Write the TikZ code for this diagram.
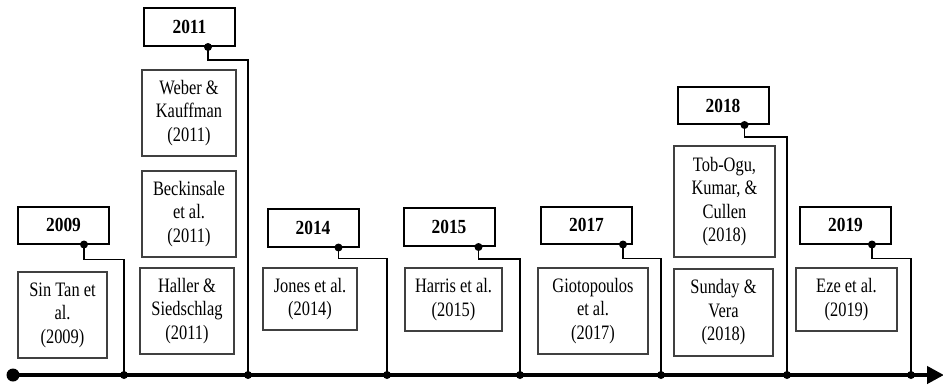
\documentclass[tikz,border=0pt]{standalone}
\usepackage{fontspec}
\setmainfont{Liberation Serif}[FakeStretch=0.8]
\newfontfamily\yearfont{Liberation Serif}[FakeStretch=0.87]
\usetikzlibrary{arrows.meta,calc}
\begin{document}
\begin{tikzpicture}[x=1pt,y=-1pt,
  yearbox/.style={draw=black,line width=2pt,minimum width=91pt,minimum height=37pt,inner sep=0pt,font=\yearfont\fontsize{20}{22}\selectfont\bfseries},
  refbox/.style={draw=black!75,line width=1.3pt,inner sep=0pt,align=center,font=\fontsize{20.5}{23.5}\selectfont,text=black},
  conn/.style={line width=1.7pt},
  dotc/.style={fill=black,circle,inner sep=0pt,minimum size=8pt},
  axisline/.style={line width=4.2pt,-{Triangle[length=17pt,width=17pt]}}
]
\useasboundingbox (0,0) rectangle (943,384);
% axis
\coordinate (start) at (13,375);
\coordinate (finish) at (944,375);
\draw[axisline] (start) -- (finish);
\fill (start) circle (6.5pt);
% year boxes
\node[yearbox] (y09) at (63.5,225) {2009};
\node[yearbox,minimum height=38pt] (y11) at (189.5,27) {2011};
\node[yearbox,minimum height=38pt] (y14) at (313,227.5) {2014};
\node[yearbox,minimum height=38pt] (y15) at (449,227) {2015};
\node[yearbox] (y17) at (586.5,225) {2017};
\node[yearbox] (y18) at (723,105.5) {2018};
\node[yearbox] (y19) at (845.5,225) {2019};
% reference boxes
\node[refbox,minimum width=89pt,minimum height=86pt] (sintan) at (62.5,315) {Sin Tan et\\al.\\(2009)};
\node[refbox,minimum width=94pt,minimum height=86pt] (weber) at (189,113) {Weber \&\\Kauffman\\(2011)};
\node[refbox,minimum width=94pt,minimum height=86pt] (beck) at (189,214) {Beckinsale\\et al.\\(2011)};
\node[refbox,minimum width=94pt,minimum height=86pt] (haller) at (187,311) {Haller \&\\Siedschlag\\(2011)};
\node[refbox,minimum width=94pt,minimum height=62pt] (jones) at (310,299) {Jones et al.\\(2014)};
\node[refbox,minimum width=97pt,minimum height=63pt] (harris) at (453.5,299.5) {Harris et al.\\(2015)};
\node[refbox,minimum width=110pt,minimum height=86pt] (gioto) at (593,311) {Giotopoulos\\et al.\\(2017)};
\node[refbox,minimum width=101pt,minimum height=111pt] (tob) at (724.5,201.5) {Tob-Ogu,\\Kumar, \&\\Cullen\\(2018)};
\node[refbox,minimum width=99pt,minimum height=87pt] (sunday) at (723.5,312.5) {Sunday \&\\Vera\\(2018)};
\node[refbox,minimum width=101pt,minimum height=63pt] (eze) at (846.5,299.5) {Eze et al.\\(2019)};
% axis points
\coordinate (a09) at (124,375);
\coordinate (a11) at (248,375);
\coordinate (a14) at (387,375);
\coordinate (a15) at (520,375);
\coordinate (a17) at (661,375);
\coordinate (a18) at (787,375);
\coordinate (a19) at (911,375);
% connector starts on year boxes
\coordinate (s09) at ($(y09.south east)+(-26,0)$);
\coordinate (s11) at ($(y11.south east)+(-28,0)$);
\coordinate (s14) at ($(y14.south east)+(-21,0)$);
\coordinate (s15) at ($(y15.south east)+(-17,0)$);
\coordinate (s17) at ($(y17.south east)+(-10,0)$);
\coordinate (s18) at ($(y18.south east)+(-25,0)$);
\coordinate (s19) at ($(y19.south east)+(-20,0)$);
% connectors
\draw[conn] (s09) -- ++(0,15) -| (a09);
\draw[conn] (s11) -- ++(0,13) -| (a11);
\draw[conn] (s14) -- ++(0,11) -| (a14);
\draw[conn] (s15) -- ++(0,12) -| (a15);
\draw[conn] (s17) -- ++(0,14) -| (a17);
\draw[conn] (s18) -- ++(0,12) -| (a18);
\draw[conn] (s19) -- ++(0,14) -| (a19);
% dots
\foreach \p in {s09,s11,s14,s15,s17,s18,s19,a09,a11,a14,a15,a17,a18,a19}
  \node[dotc] at (\p) {};
\end{tikzpicture}
\end{document}
